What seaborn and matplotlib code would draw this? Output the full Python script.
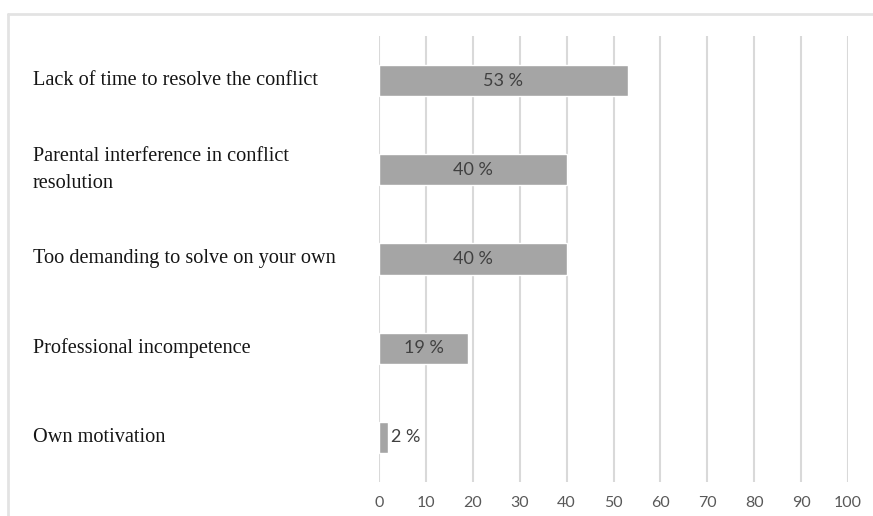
import matplotlib
matplotlib.use("Agg")
import matplotlib.pyplot as plt
import matplotlib.transforms as mtransforms
from matplotlib.lines import Line2D
import seaborn as sns
import pandas as pd

# Reasons named by respondents, share in percent
categories = [
    "Lack of time to resolve the conflict",
    "Parental interference in conflict\nresolution",
    "Too demanding to solve on your own",
    "Professional incompetence",
    "Own motivation",
]
shares = [53, 40, 40, 19, 2]
x_ticks = [0, 10, 20, 30, 40, 50, 60, 70, 80, 90, 100]

df = pd.DataFrame({"reason": categories, "share": shares})

sns.set_theme(style="white")
W, H = 873, 516
fig = plt.figure(figsize=(W / 100, H / 100), dpi=100)
ax = fig.add_axes([379 / W, 1 - 482 / H, (848 - 379) / W, (482 - 36) / H])

sns.barplot(data=df, x="share", y="reason", orient="h", color="#a5a5a5",
            width=0.35, saturation=1, ax=ax, zorder=3)

ax.set_xlim(0, 100)
ax.set_xticks(x_ticks)
ax.set_xticklabels([str(t) for t in x_ticks], family="Lato", fontsize=11.5,
                   color="#595959")
ax.tick_params(axis="x", length=0, pad=10)
ax.grid(axis="x", color="#d9d9d9", linewidth=1.5, zorder=0)
ax.grid(axis="y", visible=False)
for s in ax.spines.values():
    s.set_visible(False)
ax.set_yticks([])
ax.set_xlabel("")
ax.set_ylabel("")

# Category names, left aligned in the left margin
trans = mtransforms.blended_transform_factory(fig.transFigure, ax.transData)
for i, name in enumerate(categories):
    ax.text(33 / W, i, name, transform=trans, ha="left", va="center",
            family="Liberation Serif", fontsize=14.6, color="#151515",
            linespacing=1.58, multialignment="left")

# Value labels: inside the bar when wide enough, otherwise just after it
for i, v in enumerate(shares):
    label = f"{v} %"
    if v >= 10:
        ax.text(v / 2, i, label, ha="center", va="center", family="Lato",
                fontsize=13, color="#404040", zorder=4)
    else:
        ax.text(v + 0.5, i, label, ha="left", va="center", family="Lato",
                fontsize=13, color="#404040", zorder=4)

# Thin frame along the top and left edges
fig.add_artist(Line2D([8 / W, 1], [1 - 13.5 / H, 1 - 13.5 / H],
                      transform=fig.transFigure, color="#e3e3e3", linewidth=2))
fig.add_artist(Line2D([8 / W, 8 / W], [0, 1 - 13.5 / H],
                      transform=fig.transFigure, color="#e3e3e3", linewidth=2))

fig.savefig("out.png", dpi=100)
